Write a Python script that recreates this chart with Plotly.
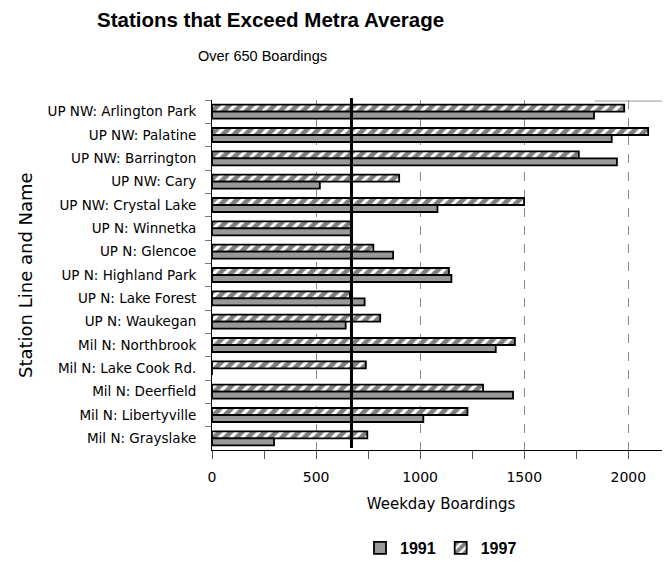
import plotly.graph_objects as go

stations = [
    "UP NW: Arlington Park", "UP NW: Palatine", "UP NW: Barrington", "UP NW: Cary",
    "UP NW: Crystal Lake", "UP N: Winnetka", "UP N: Glencoe", "UP N: Highland Park",
    "UP N: Lake Forest", "UP N: Waukegan", "Mil N: Northbrook", "Mil N: Lake Cook Rd.",
    "Mil N: Deerfield", "Mil N: Libertyville", "Mil N: Grayslake",
]
boardings_1991 = [1835, 1920, 1945, 518, 1083, 668, 870, 1150, 733, 642, 1363, 0, 1446, 1015, 298]
boardings_1997 = [1980, 2095, 1762, 899, 1499, 668, 775, 1138, 662, 808, 1455, 739, 1302, 1227, 746]
METRA_AVG = 670
x_ticks = [0, 500, 1000, 1500, 2000]

FONT = "DejaVu Sans"

fig = go.Figure()
fig.add_trace(go.Bar(
    name="1997", y=stations, x=boardings_1997, orientation="h", legendrank=2,
    marker=dict(color="white", line=dict(color="black", width=1.8),
                pattern=dict(shape="/", fgcolor="black", bgcolor="white", size=8, solidity=0.6)),
))
fig.add_trace(go.Bar(
    name="1991", y=stations, x=boardings_1991, orientation="h", legendrank=1,
    marker=dict(color="#a0a0a0", line=dict(color="black", width=1.8),
                pattern=dict(shape=".", fgcolor="black", bgcolor="#c4c4c4", size=2, solidity=0.5)),
))

fig.add_shape(type="line", xref="x", yref="paper", x0=METRA_AVG, x1=METRA_AVG,
              y0=0.006, y1=1.006, line=dict(color="black", width=3))
fig.add_shape(type="line", xref="paper", yref="paper", x0=0.836, x1=1.0,
              y0=0.997, y1=0.997, line=dict(color="#999999", width=1))

fig.update_layout(
    width=670, height=565,
    margin=dict(l=204, r=8, t=92, b=123, autoexpand=False),
    paper_bgcolor="white", plot_bgcolor="white",
    barmode="group", bargap=0.4, bargroupgap=0,
    font=dict(family=FONT, color="black"),
    showlegend=True,
    legend=dict(orientation="h", x=0.5, xanchor="center", y=-0.28, yanchor="middle",
                font=dict(family="Liberation Sans", size=16, weight="bold")),
    annotations=[
        dict(text="<b>Stations that Exceed Metra Average</b>", xref="paper", yref="paper",
             x=(270 - 212) / 458, y=(450 - 20) / 350, xanchor="center", yanchor="middle",
             showarrow=False, font=dict(family="Liberation Sans", size=20.5)),
        dict(text="Over 650 Boardings", xref="paper", yref="paper",
             x=(262 - 212) / 458, y=(450 - 56) / 350, xanchor="center", yanchor="middle",
             showarrow=False, font=dict(family="Liberation Sans", size=14.5)),
        dict(text="Station Line and Name", xref="paper", yref="paper",
             x=(25 - 212) / 458, y=0.5, xanchor="center", yanchor="middle", textangle=-90,
             showarrow=False, font=dict(family=FONT, size=18)),
    ],
)
fig.update_xaxes(
    range=[0, 2200], tickvals=x_ticks, ticks="outside", ticklen=8, tickcolor="#555",
    showline=True, linecolor="black", linewidth=1, automargin=False,
    showgrid=True, gridcolor="#888", griddash="dash", gridwidth=1,
    minor=dict(dtick=250, ticks="outside", ticklen=8, tickcolor="#555", showgrid=False),
    tickfont=dict(family=FONT, size=14), zeroline=False, ticklabelstandoff=6,
    title=dict(text="Weekday Boardings", font=dict(family=FONT, size=15), standoff=14),
)
fig.update_yaxes(
    autorange="reversed", type="category", tickson="boundaries", ticks="outside",
    ticklen=6, tickcolor="#777", showline=True, linecolor="black", linewidth=1,
    showgrid=False, tickfont=dict(family=FONT, size=13.5), ticklabelstandoff=12,
    automargin=False,
)

fig.write_html("out.html")
